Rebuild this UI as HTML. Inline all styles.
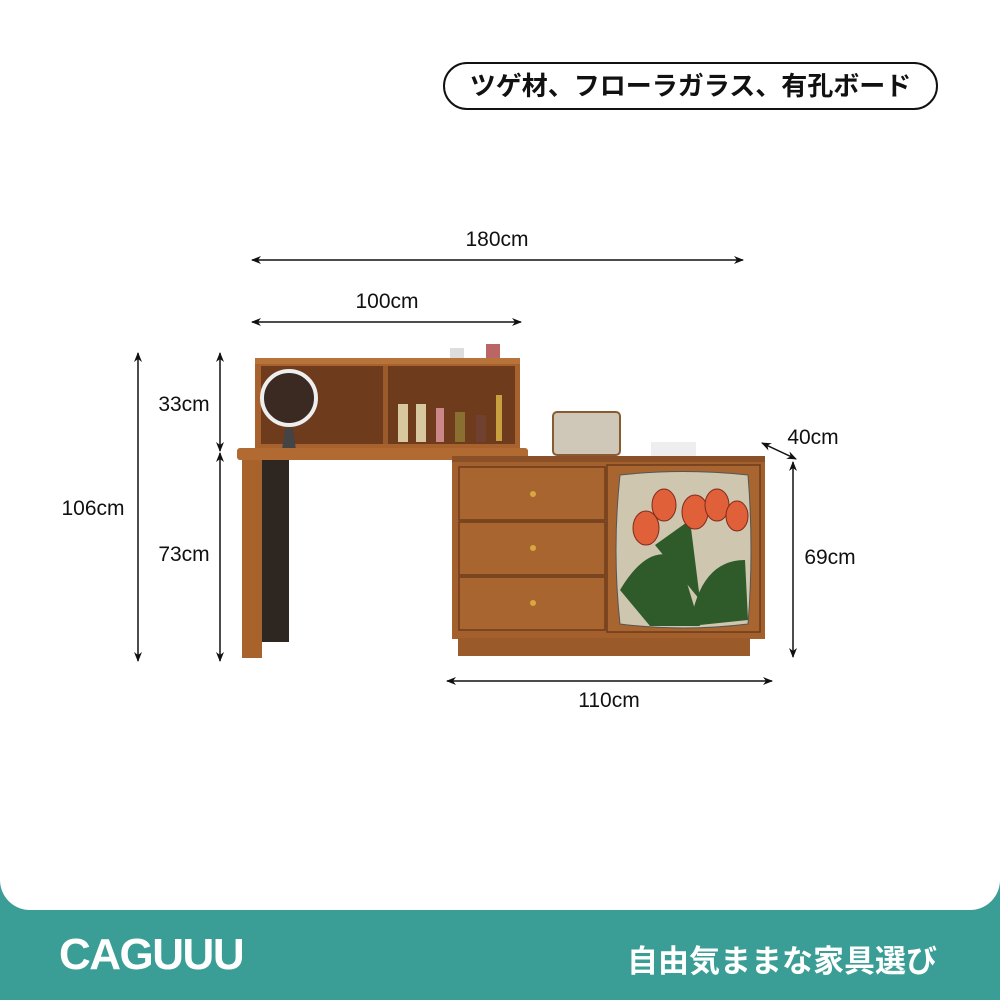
<!DOCTYPE html>
<html><head><meta charset="utf-8"><style>
body{margin:0;width:1000px;height:1000px;background:#3b9e96;overflow:hidden;position:relative;font-family:"Liberation Sans","Noto Sans CJK JP",sans-serif}
.white{position:absolute;left:0;top:0;width:1000px;height:910px;background:#fff;border-radius:0 0 30px 30px}
.pill{position:absolute;left:443px;top:62px;width:491px;height:44px;border:2px solid #111;border-radius:24px;font-weight:bold;font-size:26px;line-height:44px;text-align:center;color:#111}
.t{position:absolute;font-size:21px;color:#111;transform:translate(-50%,-50%);white-space:nowrap}
.logo{position:absolute;left:59px;top:930px;font-size:44px;font-weight:bold;color:#fff;letter-spacing:-1.5px}
.slog{position:absolute;left:627px;top:936px;font-size:31px;font-weight:bold;color:#fff}
</style></head><body>
<div class="white"></div>
<div class="pill">ツゲ材、フローラガラス、有孔ボード</div>
<svg width="1000" height="1000" style="position:absolute;left:0;top:0">
<defs>
<marker id="a" markerWidth="10" markerHeight="10" refX="9" refY="5" orient="auto-start-reverse" markerUnits="userSpaceOnUse"><path d="M0,1 L10,5 L0,9 L3,5z" fill="#111"/></marker>
</defs>
<g stroke="#111" stroke-width="1.5" fill="none" marker-start="url(#a)" marker-end="url(#a)">
<line x1="252" y1="260" x2="743" y2="260"/>
<line x1="252" y1="322" x2="521" y2="322"/>
<line x1="138" y1="353" x2="138" y2="661"/>
<line x1="220" y1="353" x2="220" y2="451"/>
<line x1="220" y1="453" x2="220" y2="661"/>
<line x1="762" y1="443" x2="796" y2="459"/>
<line x1="793" y1="462" x2="793" y2="657"/>
<line x1="447" y1="681" x2="772" y2="681"/>
</g>
<rect x="255" y="358" width="265" height="90" fill="#a7622e"/>
<rect x="261" y="366" width="254" height="78" fill="#6e3c1c"/>
<rect x="383" y="366" width="5" height="78" fill="#9a5a2a"/>
<rect x="255" y="358" width="265" height="6" fill="#b8733a"/>
<circle cx="289" cy="398" r="27" fill="#3a2a22" stroke="#eee" stroke-width="4"/>
<path d="M282 450 L285 428 L293 428 L296 450z" fill="#444"/>
<g fill="#d8c8a0"><rect x="398" y="404" width="10" height="38"/><rect x="416" y="404" width="10" height="38"/><rect x="436" y="408" width="8" height="34" fill="#c88"/><rect x="455" y="412" width="10" height="30" fill="#8a7030"/><rect x="476" y="415" width="10" height="27" fill="#704030"/><rect x="496" y="395" width="6" height="46" fill="#c8a040"/></g>
<rect x="450" y="348" width="14" height="10" fill="#ddd"/><rect x="486" y="344" width="14" height="14" fill="#b66"/>
<rect x="237" y="448" width="291" height="12" rx="3" fill="#b06a32"/>
<rect x="242" y="460" width="20" height="198" fill="#a8622c"/>
<rect x="262" y="460" width="27" height="182" fill="#2e2620"/>
<rect x="553" y="412" width="67" height="43" rx="4" fill="#cfc7b8" stroke="#8a5a30" stroke-width="2"/>
<rect x="651" y="442" width="45" height="14" fill="#eee"/>
<rect x="452" y="456" width="313" height="183" fill="#a35f2c"/>
<rect x="452" y="456" width="313" height="6" fill="#8a5028"/>
<rect x="458" y="638" width="292" height="18" fill="#9a5a2a"/>
<g fill="#a8652f" stroke="#6e3c1c" stroke-width="1.5">
<rect x="459" y="467" width="146" height="53"/><rect x="459" y="522" width="146" height="53"/><rect x="459" y="577" width="146" height="53"/>
<rect x="607" y="465" width="153" height="167"/></g>
<g fill="#d8a840"><circle cx="533" cy="494" r="3"/><circle cx="533" cy="548" r="3"/><circle cx="533" cy="603" r="3"/></g>
<path d="M620 475 Q683 468 748 475 Q754 550 748 624 Q683 632 620 624 Q612 550 620 475z" fill="#cfc6b0" stroke="#555"/>
<g fill="#2f5a2a"><path d="M620 590 Q650 540 680 560 L700 626 L650 626z"/><path d="M690 626 Q700 560 745 560 L748 620z"/><path d="M655 545 L690 520 L700 600z"/></g>
<g fill="#e0603a" stroke="#802a1a"><ellipse cx="646" cy="528" rx="13" ry="17"/><ellipse cx="664" cy="505" rx="12" ry="16"/><ellipse cx="695" cy="512" rx="13" ry="17"/><ellipse cx="717" cy="505" rx="12" ry="16"/><ellipse cx="737" cy="516" rx="11" ry="15"/></g>
</svg>
<div class="t" style="left:497px;top:240px">180cm</div>
<div class="t" style="left:387px;top:302px">100cm</div>
<div class="t" style="left:93px;top:509px">106cm</div>
<div class="t" style="left:184px;top:405px">33cm</div>
<div class="t" style="left:184px;top:555px">73cm</div>
<div class="t" style="left:813px;top:438px">40cm</div>
<div class="t" style="left:830px;top:558px">69cm</div>
<div class="t" style="left:609px;top:701px">110cm</div>
<div class="logo">CAGUUU</div>
<div class="slog">自由気ままな家具選び</div>
</body></html>
